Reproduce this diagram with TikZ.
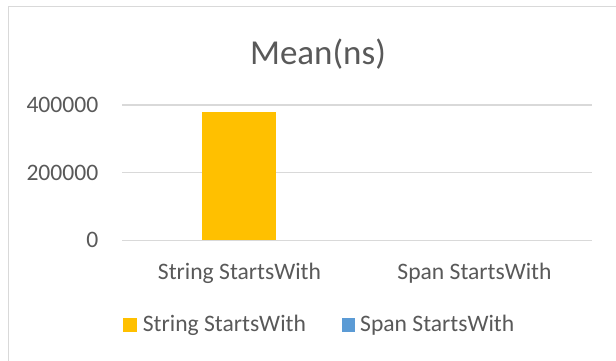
\documentclass[tikz,border=0pt]{standalone}
\usepackage{fontspec}
\setmainfont{Carlito}
\definecolor{barorange}{HTML}{FFC000}
\definecolor{barblue}{HTML}{5B9BD5}
\definecolor{labelgray}{HTML}{595959}
\definecolor{gridgray}{HTML}{D9D9D9}
\begin{document}
\begin{tikzpicture}[x=1pt,y=-1pt,
  lbl/.style={text=labelgray,inner sep=0pt,font=\fontsize{23.6}{23.6}\selectfont},
  ticklbl/.style={lbl,anchor=base east},
  catlbl/.style={lbl,anchor=base},
  legtext/.style={lbl,anchor=base west},
  gridline/.style={draw=gridgray,line width=1.3pt},
  legkey/.style={minimum size=13.6pt,inner sep=0pt,anchor=north west}]
\useasboundingbox (0,0) rectangle (616,361);
\fill[white] (0,0) rectangle (616,361);
% chart area frame (top and left edges)
\draw[gridgray,line width=1.6pt] (8.5,361) -- (8.5,6.5) -- (616,6.5);
% title
\node[text=labelgray,inner sep=0pt,anchor=base,font=\fontsize{35}{35}\selectfont] (title) at (318,65) {Mean(ns)};
% gridlines
\draw[gridline] (122,105) -- (592,105);
\draw[gridline] (122,172.8) -- (592,172.8);
% value axis labels
\node[ticklbl] (t400) at (98.5,112) {400000};
\node[ticklbl] (t200) at (98.5,180) {200000};
\node[ticklbl] (t0) at (98.5,247) {0};
% bars
\node[fill=barorange,inner sep=0pt,minimum width=74pt,minimum height=128.7pt,anchor=south] (barstr) at (239,240.7) {};
% category axis
\draw[gridline] (122,240.7) -- (592,240.7);
\node[catlbl] (catstr) at (239.5,279) {String StartsWith};
\node[catlbl] (catspan) at (474.5,279) {Span StartsWith};
% legend
\node[legkey,fill=barorange] (keystr) at (123,318) {};
\node[legtext] (legstr) at (142.7,331.7) {String StartsWith};
\node[legkey,fill=barblue] (keyspan) at (341.3,318) {};
\node[legtext] (legspan) at (360,331.7) {Span StartsWith};
\end{tikzpicture}
\end{document}
